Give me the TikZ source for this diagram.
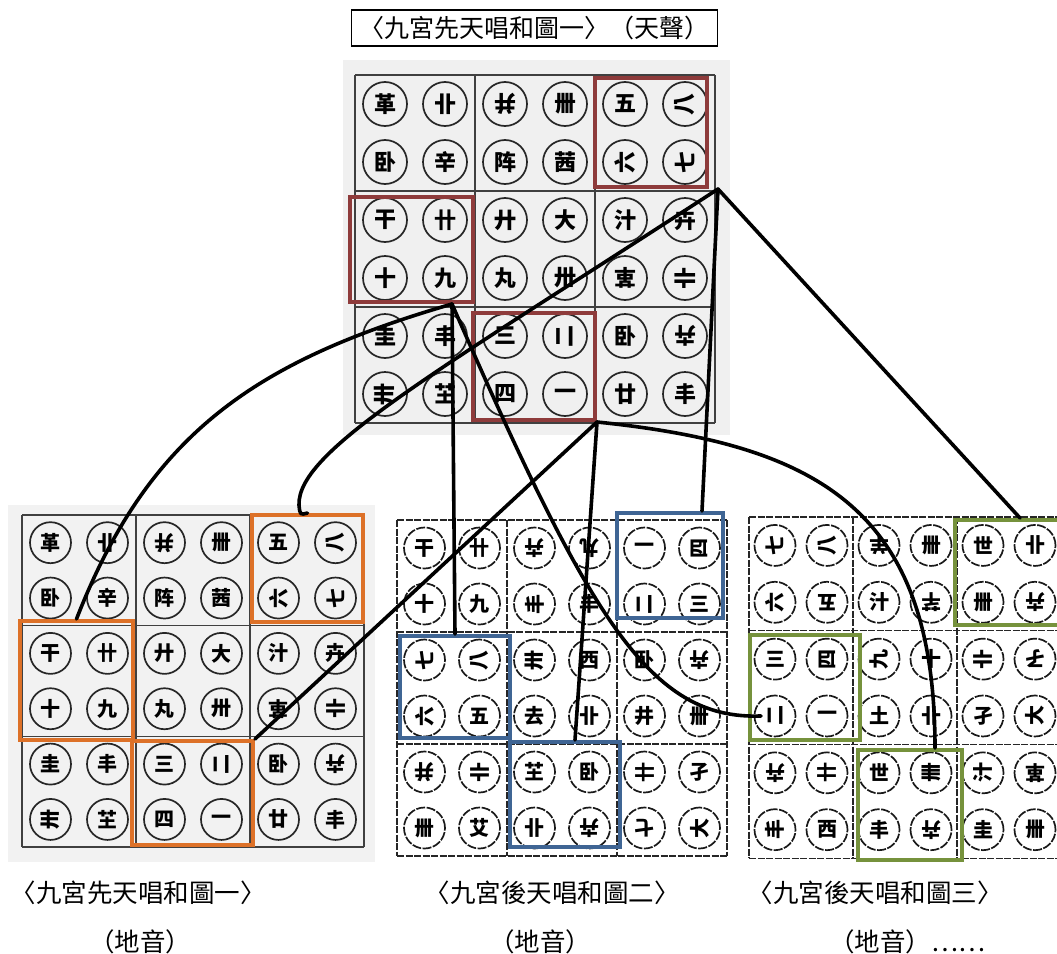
\documentclass[tikz,border=0pt]{standalone}
\usepackage{fontspec}
\newfontfamily\cjk{Noto Sans CJK TC}
\usepackage{tikz}

\definecolor{hongse}{HTML}{8E3B3B}
\definecolor{chengse}{HTML}{DD7128}
\definecolor{lanse}{HTML}{3F6594}
\definecolor{lvse}{HTML}{76923C}

\newcommand{\xiantianlist}{革/0, 卝/0, 并/180, 卌/0, 五/0, 八/90,
  卧/0, 辛/0, 阵/0, 茜/0, 六/90, 七/90,
  干/0, 卄/0, 廾/0, 大/0, 汁/0, 卉/0,
  十/0, 九/0, 丸/0, 卅/0, 革/180, 卝/90,
  圭/0, 丰/0, 三/0, 二/90, 卧/0, 卉/180,
  卅/90, 芏/0, 四/0, 一/0, 廿/0, 丰/0}
\newcommand{\houtianerlist}{干/0, 卄/0, 卉/180, 丸/180, 一/0, 四/90,
  十/0, 九/0, 丰/90, 丰/0, 二/90, 三/0,
  七/90, 八/90, 卅/90, 西/0, 卧/0, 卉/180,
  六/90, 五/0, 去/0, 卝/0, 井/0, 卌/0,
  并/180, 卝/90, 芏/0, 卧/0, 卄/90, 孑/0,
  卌/0, 艾/0, 卝/0, 卉/180, 七/180, 大/90}
\newcommand{\houtiansanlist}{七/90, 八/90, 羊/180, 卌/0, 世/0, 卝/0,
  六/90, 五/180, 汁/0, 芊/180, 卌/0, 卉/180,
  三/0, 四/90, 九/90, 十/0, 卝/90, 孑/180,
  二/90, 一/0, 土/0, 卝/0, 孑/0, 大/90,
  卉/180, 卄/90, 世/0, 卌/90, 汁/90, 革/180,
  丰/90, 西/0, 丰/0, 卉/180, 圭/0, 卌/0}

% #1 name, #2 x0, #3 y0, #4 block width, #5 block height, #6 line style, #7 ring style, #8 list
\newcommand{\gongtu}[8]{%
  \foreach \zi in {0,...,3}{
    \draw[#6] (#2+\zi*#4, #3) -- (#2+\zi*#4, #3+3*#5);
    \draw[#6] (#2, #3+\zi*#5) -- (#2+3*#4, #3+\zi*#5);
  }
  \foreach \zc/\za [count=\zn from 0] in #8{
    \pgfmathtruncatemacro{\zcol}{mod(\zn,6)}
    \pgfmathtruncatemacro{\zrow}{int(\zn/6)}
    \pgfmathsetmacro{\zx}{#2+int(\zcol/2)*#4+(0.25+0.5*mod(\zcol,2))*#4}
    \pgfmathsetmacro{\zy}{#3+int(\zrow/2)*#5+(0.25+0.5*mod(\zrow,2))*#5}
    \node[#7, rotate=\za] (#1-\zn) at (\zx,\zy) {\zc};
  }
}

\begin{document}
\begin{tikzpicture}[x=1pt, y=-1pt,
    xian line/.style={draw=black!75, line width=1.3},
    hou line/.style={draw=black!85, line width=1.2, dash pattern=on 7pt off 1.5pt},
    da ring/.style={circle, draw=black!85, line width=1.7, minimum size=44,
        inner sep=0, font=\cjk\bfseries\fontsize{22}{22}\selectfont},
    xiao ring/.style={da ring, minimum size=41, font=\cjk\bfseries\fontsize{20}{20}\selectfont},
    hou ring/.style={xiao ring, draw=black!90, dash pattern=on 9pt off 1.5pt},
    kuang/.style={draw, line width=4, inner sep=0},
    hong/.style={kuang, draw=hongse},
    cheng/.style={kuang, draw=chengse},
    lan/.style={kuang, draw=lanse},
    lv/.style={kuang, draw=lvse},
    lian/.style={line width=3.6, line cap=round, line join=round},
    biaoqian/.style={font=\cjk\fontsize{25.5}{25.5}\selectfont, inner sep=0}
]
    \useasboundingbox (0,0) rectangle (1057,953);
    \fill[gray!12] (343,60) rectangle (730,435);
    \fill[gray!10] (8,505) rectangle (375,862);

    \node[draw, line width=1.6, minimum width=366, minimum height=36, inner sep=0,
        font=\cjk\fontsize{25}{25}\selectfont] (biaoti) at (534.5,28) {〈九宮先天唱和圖一〉（天聲）};

    \gongtu{t}{355}{75}{120}{116}{xian line}{da ring}{\xiantianlist}
    \gongtu{l}{22}{515}{114}{110.7}{xian line}{xiao ring}{\xiantianlist}
    \gongtu{m}{397}{520}{110}{112}{hou line}{hou ring}{\houtianerlist}
    \gongtu{r}{749}{517}{104}{113.7}{hou line}{hou ring}{\houtiansanlist}

    \node[hong, minimum width=112, minimum height=109] (tA) at (651,132.5) {};
    \node[hong, minimum width=123, minimum height=105] (tB) at (411.5,249.5) {};
    \node[hong, minimum width=122, minimum height=107] (tC) at (534,366.5) {};
    \node[cheng, minimum width=111, minimum height=107] (lA) at (307.5,568.5) {};
    \node[cheng, minimum width=113, minimum height=119] (lB) at (76.5,680.5) {};
    \node[cheng, minimum width=121, minimum height=104] (lC) at (192.5,793) {};
    \node[lan, minimum width=106, minimum height=105] (mA) at (670,565.5) {};
    \node[lan, minimum width=110, minimum height=102] (mB) at (455,687) {};
    \node[lan, minimum width=110, minimum height=105] (mC) at (565,794.5) {};
    \node[lv, minimum width=110, minimum height=105] (rA) at (1010,572.5) {};
    \node[lv, minimum width=110, minimum height=105] (rB) at (805,687.5) {};
    \node[lv, minimum width=104, minimum height=110] (rC) at (910,805) {};

    \draw[lian] ([xshift=9]tA.south east) -- ([xshift=-23]mA.north east);
    \draw[lian] ([xshift=9]tA.south east) -- ([xshift=10]rA.north);
    \draw[lian] ([xshift=9]tA.south east) .. controls (440,370) and (297,450) .. (299,505)
        .. controls (300,515) .. (lA.north);
    \draw[lian] ([xshift=-23]tB.south east) .. controls (260,360) and (150,430) .. (lB.north);
    \draw[lian] ([xshift=-23]tB.south east) -- (mB.north);
    \draw[lian] ([xshift=-23]tB.south east) .. controls (590,620) and (650,720)
        .. ([xshift=-14]r-18.center);
    \draw[lian] (tC.south east) -- (lC.north east);
    \draw[lian] (tC.south east) -- ([xshift=10]mC.north);
    \draw[lian] (tC.south east) .. controls (820,445) and (935,510) .. ([xshift=25]rC.north);

    \node[biaoqian] (ming1) at (138,893) {〈九宮先天唱和圖一〉};
    \node[biaoqian] (yin1) at (140,942) {（地音）};
    \node[biaoqian] (ming2) at (552,893) {〈九宮後天唱和圖二〉};
    \node[biaoqian] (yin2) at (540,942) {（地音）};
    \node[biaoqian] (ming3) at (875,893) {〈九宮後天唱和圖三〉};
    \node[biaoqian] (yin3) at (907,942) {（地音）……};
\end{tikzpicture}
\end{document}
